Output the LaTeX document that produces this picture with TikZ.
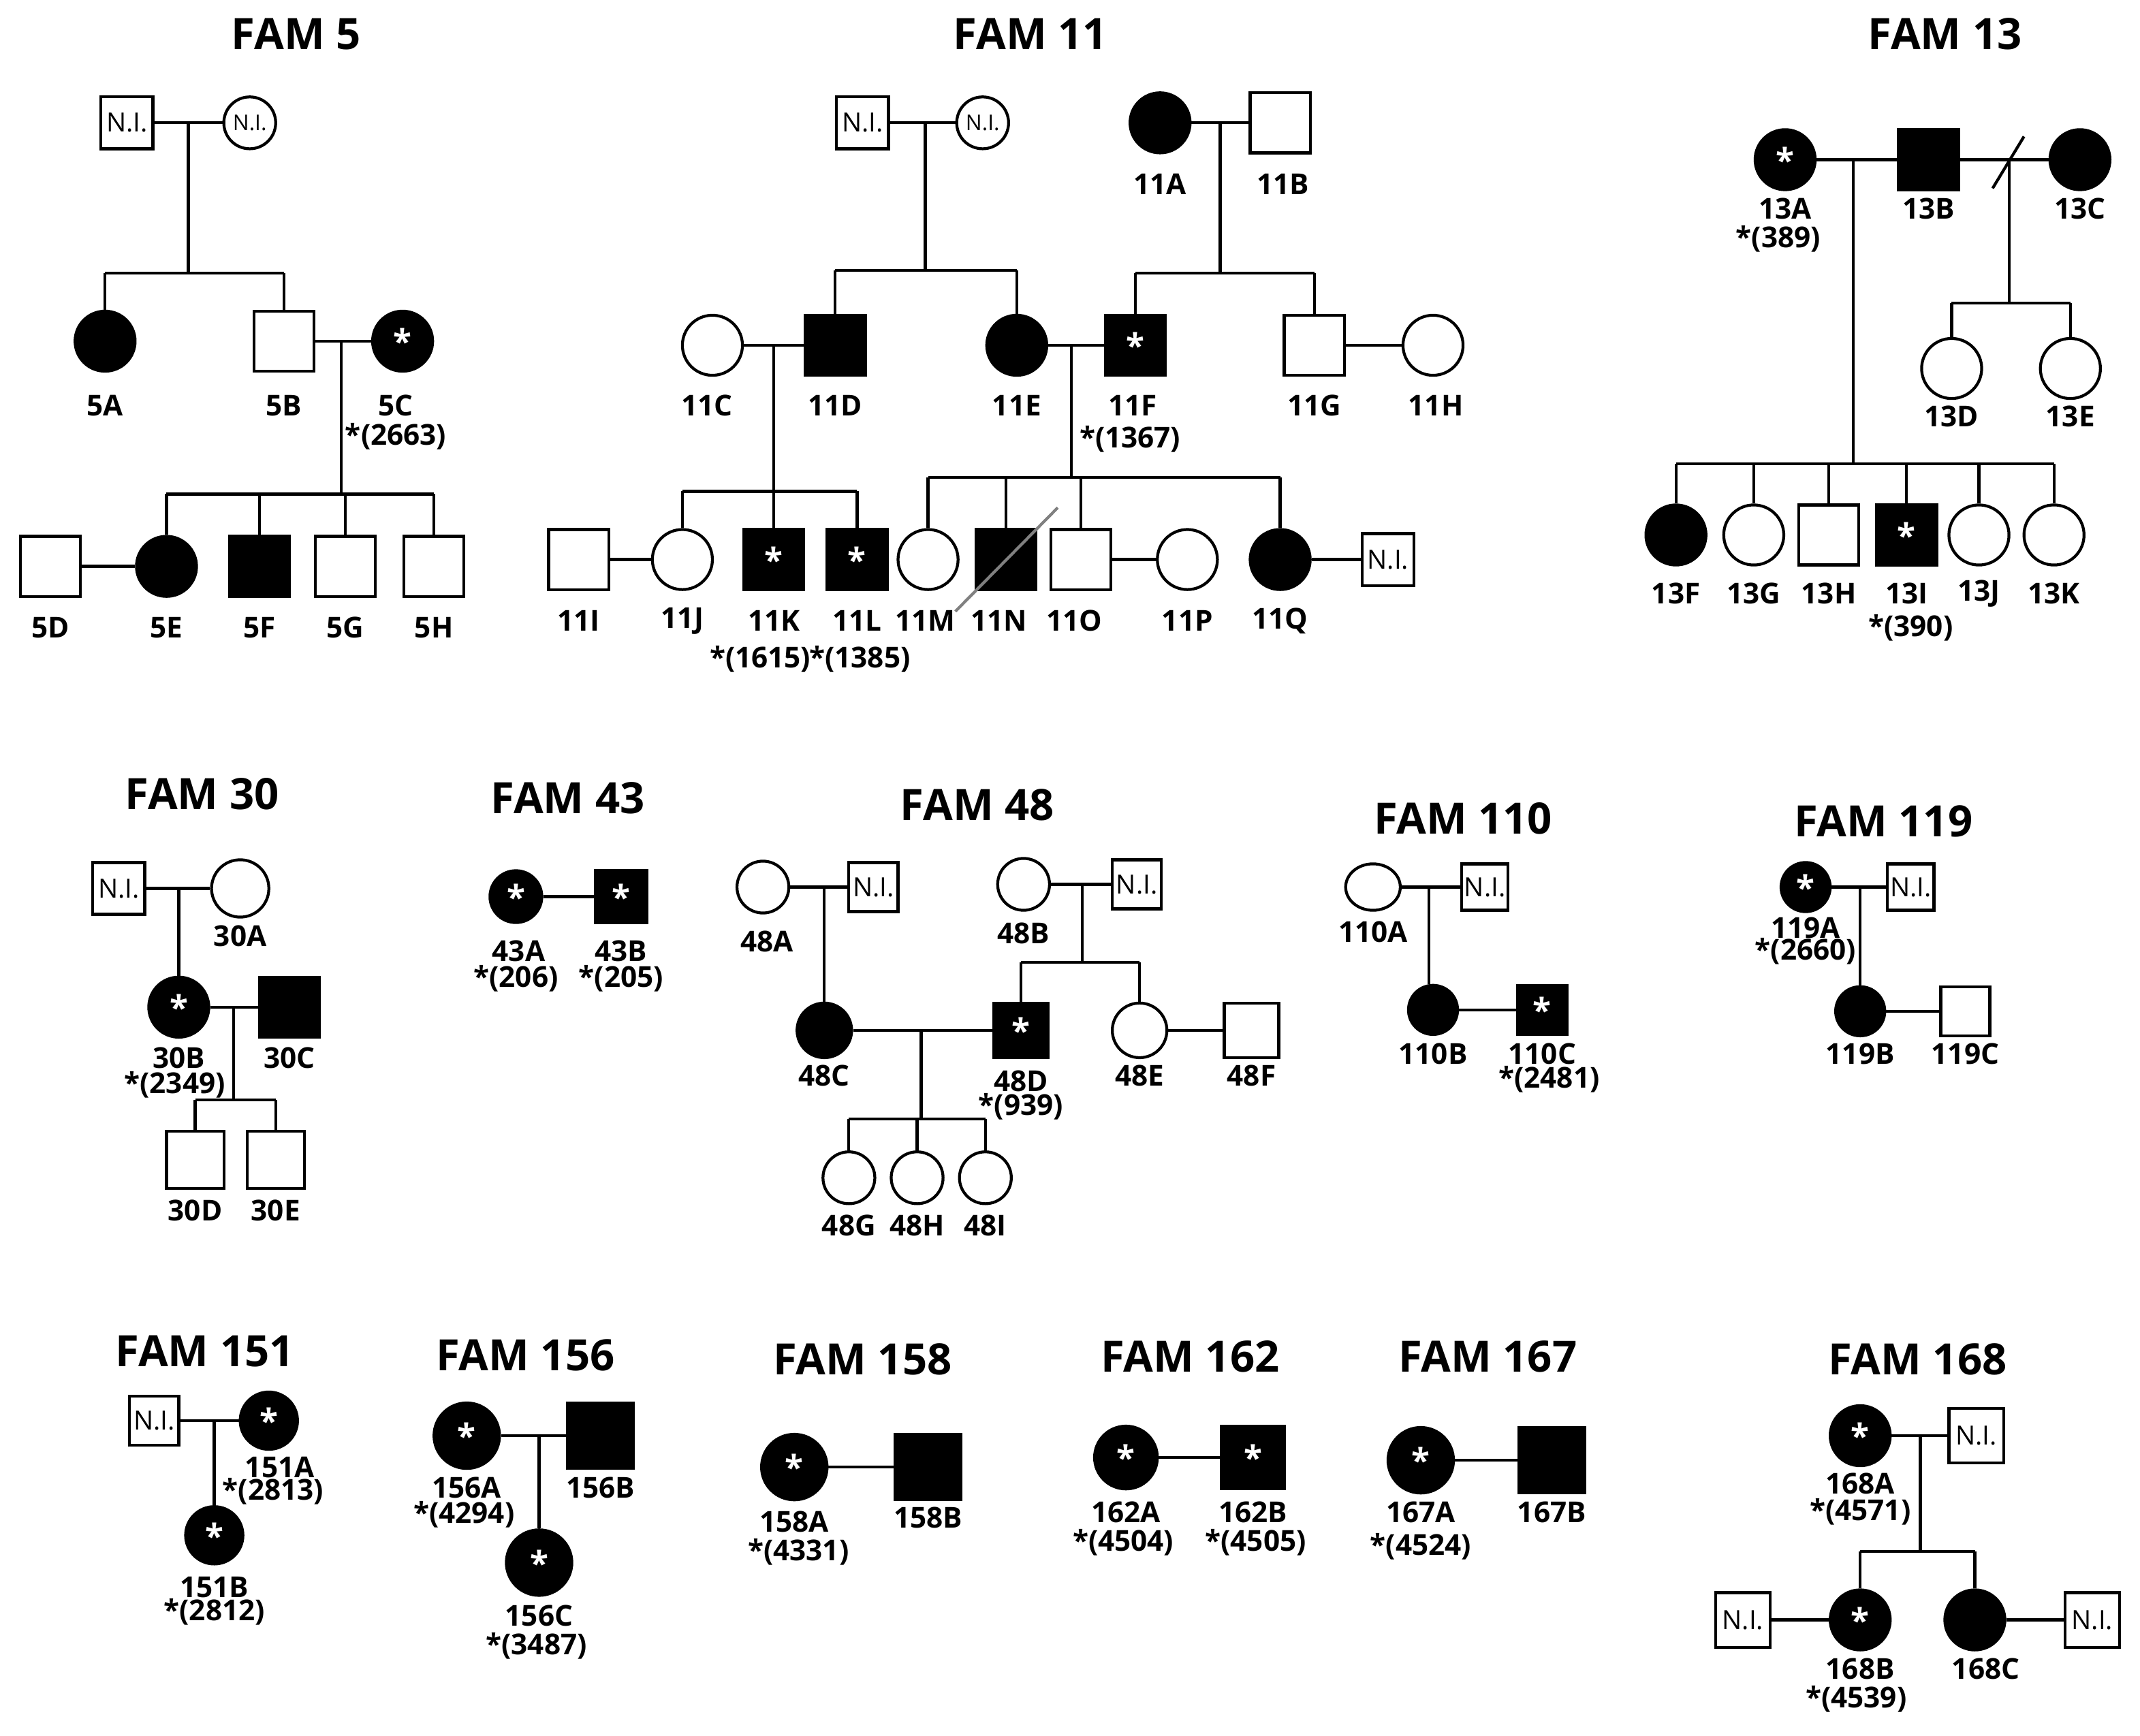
\documentclass[tikz,border=0pt]{standalone}
\usepackage{fontspec}
\setmainfont{Open Sans}
\usetikzlibrary{shapes.geometric}
\begin{document}
\begin{tikzpicture}[x=0.01cm,y=-0.01cm,line width=0.6pt,
 M/.style={draw,rectangle,minimum size=#1*0.01cm,inner sep=0pt,fill=white,font=\bfseries\fontsize{7}{7}\selectfont},
 M/.default=44,
 MF/.style={M=#1,fill=black,text=white}, MF/.default=44,
 F/.style={draw,circle,minimum size=#1*0.01cm,inner sep=0pt,fill=white,font=\bfseries\fontsize{7}{7}\selectfont},
 F/.default=44,
 FF/.style={F=#1,fill=black,text=white}, FF/.default=44,
 NI/.style={M=#1,font=\fontsize{5.5}{6}\selectfont}, NI/.default=38,
 NIF/.style={F=#1,font=\fontsize{4.5}{5}\selectfont}, NIF/.default=38,
 lb/.style={font=\bfseries\fontsize{6}{7}\selectfont,inner sep=0pt},
 tt/.style={font=\bfseries\fontsize{9}{10}\selectfont,inner sep=0pt}]
\useasboundingbox (0,0) rectangle (1568,1272);
% ---------- FAM 5
\node[tt] (t5) at (217,25) {FAM 5};
\node[NI] (n5a) at (93,90) {N.I.}; \node[NIF] (n5b) at (183,90) {N.I.};
\draw (n5a) -- (n5b);
\coordinate (c5a) at (138,90); \coordinate (b5a) at (138,200);
\node[FF] (5A) at (77,250) {}; \node[M] (5B) at (208,250) {}; \node[FF] (5C) at (295,250) {*};
\draw (c5a) -- (b5a); \draw (5A |- b5a) -- (5B |- b5a); \draw (5A) -- (5A |- b5a); \draw (5B) -- (5B |- b5a);
\draw (5B) -- (5C);
\coordinate (c5b) at (250,250); \coordinate (b5b) at (250,362); \draw (c5b) -- (b5b);
\node[M] (5D) at (37,415) {}; \node[FF] (5E) at (122,415) {}; \node[MF] (5F) at (190,415) {};
\node[M] (5G) at (253,415) {}; \node[M] (5H) at (318,415) {};
\draw (5E |- b5b) -- (5H |- b5b);
\foreach \n in {5E,5F,5G,5H} \draw (\n) -- (\n |- b5b);
\draw (5D) -- (5E);
\node[lb] (l5A) at (77,297) {5A}; \node[lb] (l5B) at (208,297) {5B}; \node[lb] (l5C) at (290,297) {5C};
\node[lb] (s5C) at (290,320) {*(2663)};
\foreach \n/\x in {5D/37,5E/122,5F/190,5G/253,5H/318} \node[lb] (l\n) at (\x,460) {\n};
% ---------- FAM 11
\node[tt] (t11) at (755,25) {FAM 11};
\node[NI] (n11a) at (632,90) {N.I.}; \node[NIF] (n11b) at (720,90) {N.I.};
\draw (n11a) -- (n11b);
\coordinate (c11a) at (678,90); \coordinate (b11a) at (678,198); \draw (c11a) -- (b11a);
\node[FF] (11A) at (850,90) {}; \node[M] (11B) at (938,90) {}; \draw (11A) -- (11B);
\coordinate (c11b) at (894,90); \coordinate (b11b) at (894,200); \draw (c11b) -- (b11b);
\node[lb] (l11A) at (850,135) {11A}; \node[lb] (l11B) at (940,135) {11B};
\node[F] (11C) at (522,253) {}; \node[MF] (11D) at (612,253) {}; \node[FF] (11E) at (745,253) {};
\node[MF] (11F) at (832,253) {*}; \node[M] (11G) at (963,253) {}; \node[F] (11H) at (1050,253) {};
\draw (11D |- b11a) -- (11E |- b11a); \draw (11D) -- (11D |- b11a); \draw (11E) -- (11E |- b11a);
\draw (11F |- b11b) -- (11G |- b11b); \draw (11F) -- (11F |- b11b); \draw (11G) -- (11G |- b11b);
\draw (11C) -- (11D); \draw (11E) -- (11F); \draw (11G) -- (11H);
\foreach \n/\x in {11C/518,11D/612,11E/745,11F/830,11G/963,11H/1052} \node[lb] (l\n) at (\x,297) {\n};
\node[lb] (s11F) at (828,322) {*(1367)};
\coordinate (c11c) at (567,253); \coordinate (b11c) at (567,360); \draw (c11c) -- (b11c);
\node[M] (11I) at (424,410) {}; \node[F] (11J) at (500,410) {}; \node[MF] (11K) at (567,410) {*}; \node[MF] (11L) at (628,410) {*};
\draw (11J |- b11c) -- (11L |- b11c);
\foreach \n in {11J,11K,11L} \draw (\n) -- (\n |- b11c);
\draw (11I) -- (11J);
\coordinate (c11d) at (785,253); \coordinate (b11d) at (785,350); \draw (c11d) -- (b11d);
\node[F] (11M) at (680,410) {}; \node[MF] (11N) at (737,410) {}; \node[M] (11O) at (792,410) {};
\node[F] (11P) at (870,410) {}; \node[FF] (11Q) at (938,410) {}; \node[NI] (n11c) at (1017,410) {N.I.};
\draw (11M |- b11d) -- (11Q |- b11d);
\foreach \n in {11M,11N,11O,11Q} \draw (\n) -- (\n |- b11d);
\draw (11O) -- (11P); \draw (11Q) -- (n11c);
\coordinate (d11a) at (700,448); \coordinate (d11b) at (775,372); \draw[gray] (d11a) -- (d11b);
\foreach \n/\x in {11I/424,11J/500,11K/567,11L/628,11M/678,11N/732,11O/787,11P/870,11Q/938} \node[lb] (l\n) at (\x,455) {\n};
\node[lb] (s11K) at (557,483) {*(1615)}; \node[lb] (s11L) at (630,483) {*(1385)};
% ---------- FAM 13
\node[tt] (t13) at (1425,25) {FAM 13};
\node[FF] (13A) at (1308,117) {*}; \node[MF] (13B) at (1413,117) {}; \node[FF] (13C) at (1524,117) {};
\draw (13A) -- (13B); \draw (13B) -- (13C);
\coordinate (d13a) at (1460,138); \coordinate (d13b) at (1483,100); \draw (d13a) -- (d13b);
\node[lb] (l13A) at (1308,153) {13A}; \node[lb] (s13A) at (1303,175) {*(389)};
\node[lb] (l13B) at (1413,153) {13B}; \node[lb] (l13C) at (1524,153) {13C};
\coordinate (c13a) at (1358,117); \coordinate (b13a) at (1358,340); \draw (c13a) -- (b13a);
\node[FF] (13F) at (1228,392) {}; \node[F] (13G) at (1285,392) {}; \node[M] (13H) at (1340,392) {};
\node[MF] (13I) at (1397,392) {*}; \node[F] (13J) at (1450,392) {}; \node[F] (13K) at (1505,392) {};
\draw (13F |- b13a) -- (13K |- b13a);
\foreach \n in {13F,13G,13H,13I,13J,13K} \draw (\n) -- (\n |- b13a);
\foreach \n/\x in {13F/1228,13G/1285,13H/1340,13I/1397,13J/1450,13K/1505} \node[lb] (l\n) at (\x,435) {\n};
\node[lb] (s13I) at (1400,460) {*(390)};
\coordinate (c13b) at (1472,117); \coordinate (b13b) at (1472,222); \draw (c13b) -- (b13b);
\node[F] (13D) at (1430,270) {}; \node[F] (13E) at (1517,270) {};
\draw (13D |- b13b) -- (13E |- b13b); \draw (13D) -- (13D |- b13b); \draw (13E) -- (13E |- b13b);
\node[lb] (l13D) at (1430,305) {13D}; \node[lb] (l13E) at (1517,305) {13E};
% ---------- FAM 30
\node[tt] (t30) at (148,582) {FAM 30};
\node[NI] (n30) at (87,651) {N.I.}; \node[F=42] (30A) at (176,651) {}; \draw (n30) -- (30A);
\node[lb] (l30A) at (176,686) {30A};
\node[FF] (30B) at (131,738) {*}; \node[MF] (30C) at (212,738) {}; \draw (30B) -- (30C);
\coordinate (c30a) at (131,651); \draw (c30a) -- (30B);
\node[lb] (l30B) at (131,775) {30B}; \node[lb] (s30B) at (128,795) {*(2349)}; \node[lb] (l30C) at (212,775) {30C};
\coordinate (c30b) at (171,738); \coordinate (b30b) at (171,806); \draw (c30b) -- (b30b);
\node[M=42] (30D) at (143,850) {}; \node[M=42] (30E) at (202,850) {};
\draw (30D |- b30b) -- (30E |- b30b); \draw (30D) -- (30D |- b30b); \draw (30E) -- (30E |- b30b);
\node[lb] (l30D) at (143,887) {30D}; \node[lb] (l30E) at (202,887) {30E};
% ---------- FAM 43
\node[tt] (t43) at (416,585) {FAM 43};
\node[FF=38] (43A) at (378,657) {*}; \node[MF=38] (43B) at (455,657) {*}; \draw (43A) -- (43B);
\node[lb] (l43A) at (380,697) {43A}; \node[lb] (l43B) at (455,697) {43B};
\node[lb] (s43A) at (378,717) {*(206)}; \node[lb] (s43B) at (455,717) {*(205)};
% ---------- FAM 48
\node[tt] (t48) at (716,590) {FAM 48};
\node[F=38] (48A) at (559,650) {}; \node[NI=36] (n48a) at (640,650) {N.I.}; \draw (48A) -- (n48a);
\node[FF=40] (48C) at (604,755) {}; \coordinate (c48a) at (604,650); \draw (c48a) -- (48C);
\node[F=38] (48B) at (750,648) {}; \node[NI=36] (n48b) at (833,648) {N.I.}; \draw (48B) -- (n48b);
\coordinate (c48b) at (793,648); \coordinate (b48b) at (793,705); \draw (c48b) -- (b48b);
\node[MF=40] (48D) at (748,755) {*}; \node[F=40] (48E) at (835,755) {}; \node[M=40] (48F) at (917,755) {};
\draw (48D |- b48b) -- (48E |- b48b); \draw (48D) -- (48D |- b48b); \draw (48E) -- (48E |- b48b);
\draw (48C) -- (48D); \draw (48E) -- (48F);
\coordinate (c48c) at (675,755); \coordinate (b48c) at (675,820); \draw (c48c) -- (b48c);
\node[F=38] (48G) at (622,863) {}; \node[F=38] (48H) at (672,863) {}; \node[F=38] (48I) at (722,863) {};
\draw (48G |- b48c) -- (48I |- b48c);
\foreach \n in {48G,48H,48I} \draw (\n) -- (\n |- b48c);
\node[lb] (l48A) at (562,690) {48A}; \node[lb] (l48B) at (750,684) {48B}; \node[lb] (l48C) at (604,788) {48C};
\node[lb] (l48D) at (748,792) {48D}; \node[lb] (s48D) at (748,811) {*(939)};
\node[lb] (l48E) at (835,788) {48E}; \node[lb] (l48F) at (917,788) {48F};
\foreach \n/\x in {48G/622,48H/672,48I/722} \node[lb] (l\n) at (\x,898) {\n};
% ---------- FAM 110
\node[tt] (t110) at (1072,600) {FAM 110};
\node[draw,ellipse,minimum width=0.4cm,minimum height=0.34cm,inner sep=0pt] (110A) at (1006,650) {};
\node[NI=34] (n110) at (1088,650) {N.I.}; \draw (110A) -- (n110);
\node[FF=36] (110B) at (1050,740) {}; \node[MF=36] (110C) at (1130,740) {*}; \draw (110B) -- (110C);
\coordinate (c110) at (1047,650); \draw (c110) -- (c110 |- 110B.north);
\node[lb] (l110A) at (1006,683) {110A}; \node[lb] (l110B) at (1050,772) {110B};
\node[lb] (l110C) at (1130,772) {110C}; \node[lb] (s110C) at (1135,791) {*(2481)};
% ---------- FAM 119
\node[tt] (t119) at (1380,602) {FAM 119};
\node[FF=36] (119A) at (1323,650) {*}; \node[NI=34] (n119) at (1400,650) {N.I.}; \draw (119A) -- (n119);
\node[FF=36] (119B) at (1363,741) {}; \node[M=36] (119C) at (1440,741) {}; \draw (119B) -- (119C);
\coordinate (c119) at (1363,650); \draw (c119) -- (119B);
\node[lb] (l119A) at (1323,680) {119A}; \node[lb] (s119A) at (1323,697) {*(2660)};
\node[lb] (l119B) at (1363,772) {119B}; \node[lb] (l119C) at (1440,772) {119C};
% ---------- FAM 151
\node[tt] (t151) at (150,990) {FAM 151};
\node[NI=36] (n151) at (113,1041) {N.I.}; \node[FF=42] (151A) at (197,1041) {*}; \draw (n151) -- (151A);
\node[FF=42] (151B) at (157,1125) {*}; \coordinate (c151) at (157,1041); \draw (c151) -- (151B);
\node[lb] (l151A) at (205,1075) {151A}; \node[lb] (s151A) at (200,1093) {*(2813)};
\node[lb] (l151B) at (157,1163) {151B}; \node[lb] (s151B) at (157,1181) {*(2812)};
% ---------- FAM 156
\node[tt] (t156) at (385,993) {FAM 156};
\node[FF=48] (156A) at (342,1052) {*}; \node[MF=48] (156B) at (440,1052) {}; \draw (156A) -- (156B);
\node[FF=48] (156C) at (395,1145) {*}; \coordinate (c156) at (395,1052); \draw (c156) -- (156C);
\node[lb] (l156A) at (342,1090) {156A}; \node[lb] (s156A) at (340,1110) {*(4294)};
\node[lb] (l156B) at (440,1090) {156B}; \node[lb] (l156C) at (395,1184) {156C}; \node[lb] (s156C) at (393,1206) {*(3487)};
% ---------- FAM 158
\node[tt] (t158) at (632,996) {FAM 158};
\node[FF=48] (158A) at (582,1075) {*}; \node[MF=48] (158B) at (680,1075) {}; \draw (158A) -- (158B);
\node[lb] (l158A) at (582,1115) {158A}; \node[lb] (s158A) at (585,1137) {*(4331)}; \node[lb] (l158B) at (680,1112) {158B};
% ---------- FAM 162
\node[tt] (t162) at (872,994) {FAM 162};
\node[FF=46] (162A) at (825,1068) {*}; \node[MF=46] (162B) at (918,1068) {*}; \draw (162A) -- (162B);
\node[lb] (l162A) at (825,1108) {162A}; \node[lb] (s162A) at (823,1130) {*(4504)};
\node[lb] (l162B) at (918,1108) {162B}; \node[lb] (s162B) at (920,1130) {*(4505)};
% ---------- FAM 167
\node[tt] (t167) at (1090,994) {FAM 167};
\node[FF=48] (167A) at (1041,1070) {*}; \node[MF=48] (167B) at (1137,1070) {}; \draw (167A) -- (167B);
\node[lb] (l167A) at (1041,1108) {167A}; \node[lb] (s167A) at (1041,1133) {*(4524)}; \node[lb] (l167B) at (1137,1108) {167B};
% ---------- FAM 168
\node[tt] (t168) at (1405,996) {FAM 168};
\node[FF] (168A) at (1363,1052) {*}; \node[NI=40] (n168a) at (1448,1052) {N.I.}; \draw (168A) -- (n168a);
\coordinate (c168) at (1407,1052); \coordinate (b168) at (1407,1137); \draw (c168) -- (b168);
\node[FF] (168B) at (1363,1187) {*}; \node[FF] (168C) at (1447,1187) {};
\draw (168B |- b168) -- (168C |- b168); \draw (168B) -- (168B |- b168); \draw (168C) -- (168C |- b168);
\node[NI=40] (n168b) at (1277,1187) {N.I.}; \node[NI=40] (n168c) at (1533,1187) {N.I.};
\draw (n168b) -- (168B); \draw (168C) -- (n168c);
\node[lb] (l168A) at (1363,1087) {168A}; \node[lb] (s168A) at (1363,1108) {*(4571)};
\node[lb] (l168B) at (1363,1223) {168B}; \node[lb] (s168B) at (1360,1245) {*(4539)}; \node[lb] (l168C) at (1455,1223) {168C};
\end{tikzpicture}
\end{document}
